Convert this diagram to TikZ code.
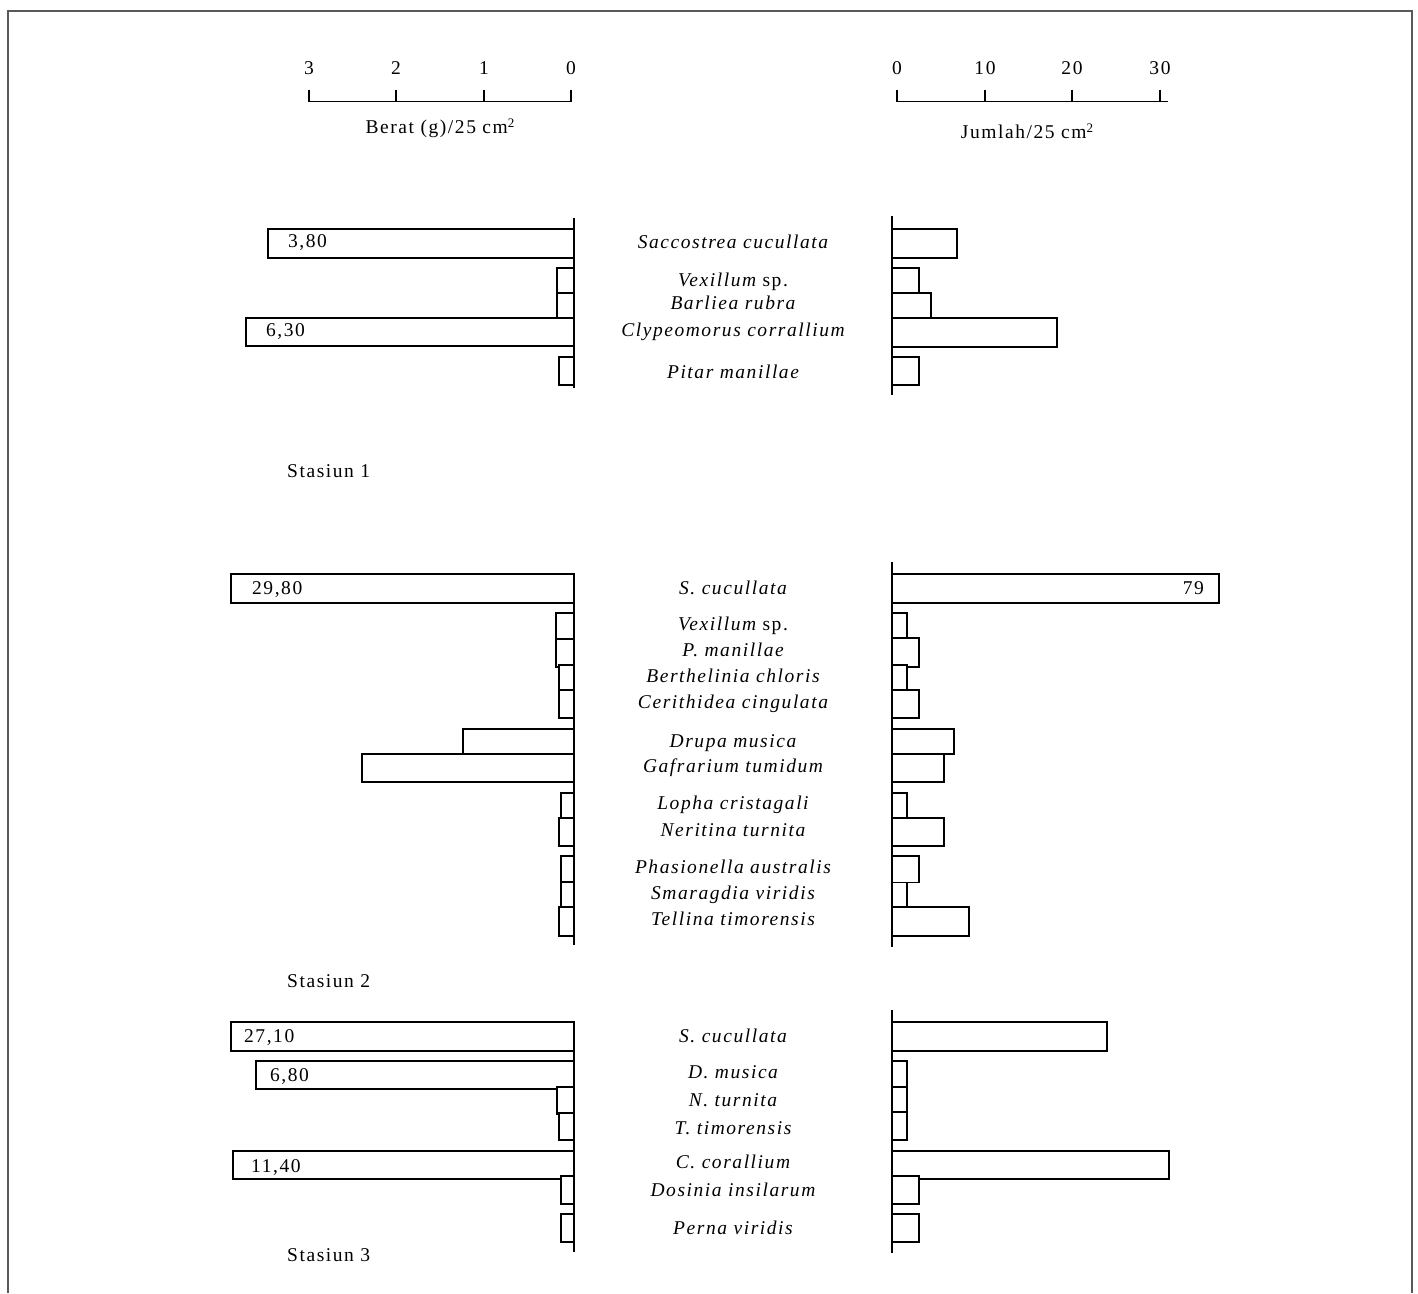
\documentclass[tikz,border=0pt]{standalone}
\usepackage{fontspec}
\setmainfont{Liberation Serif}[LetterSpace=8]
\begin{document}
\begin{tikzpicture}[x=1pt,y=-1pt,
  barbox/.style={draw=black,line width=1.8pt,fill=white},
  axisline/.style={draw=black,line width=1.8pt},
  frameline/.style={draw=black!65,line width=2pt},
  lbl/.style={inner sep=0pt,font=\fontsize{19.5}{22}\selectfont},
  sp/.style={lbl,anchor=base},
  num/.style={lbl,anchor=base west},
  tick/.style={lbl,anchor=base}]
\useasboundingbox (0,0) rectangle (1418,1293);
% frame
\draw[frameline] (8,1293) -- (8,11) -- (1412,11) -- (1412,1293);

% ---------- scales ----------
\coordinate (la) at (308,101.5); \coordinate (lb) at (572,101.5);
\draw[axisline] (la) -- (lb);
\foreach \x/\t in {309/3,396/2,484/1,571/0}{
  \draw[axisline] (\x,89.5) -- (\x,101.5);
  \node[tick] at (\x,74.5) {\t};
}
\node[tick] (beratlbl) at (440,133.5) {Berat (g)/25 cm{\fontsize{13}{13}\selectfont\raisebox{6pt}{2}}};

\coordinate (ra) at (896,101.5); \coordinate (rb) at (1167.5,101.5);
\draw[axisline] (ra) -- (rb);
\foreach \x/\t in {897/0,985/10,1072/20,1160/30}{
  \draw[axisline] (\x,89.5) -- (\x,101.5);
  \node[tick] at (\x,74.5) {\t};
}
\node[tick] (jumlahlbl) at (1027,138) {Jumlah/25 cm{\fontsize{13}{13}\selectfont\raisebox{6pt}{2}}};

% ---------- Stasiun 1 ----------
\foreach \l/\t/\b in {268.3/229.3/257.7, 556.7/267.7/292.7, 556.7/292.7/317.7, 246/317.7/346, 559/356.7/385.3}{
  \draw[barbox] (\l,\t) rectangle (574,\b);
}
\foreach \r/\t/\b in {956.7/229.3/257.7, 919/268/293, 931.3/293/318.3, 1056.7/318.3/347, 919/357/385.3}{
  \draw[barbox] (892,\t) rectangle (\r,\b);
}
\draw[axisline] (574,218) -- (574,388);
\draw[axisline] (892,216) -- (892,395);
\node[num] (v1a) at (288,247.5) {3,80};
\node[num] (v1b) at (266,336.5) {6,30};
\node[sp] (s1a) at (733,248) {\itshape Saccostrea cucullata};
\node[sp] (s1b) at (733,286.5) {\itshape Vexillum\upshape{} sp.};
\node[sp] (s1c) at (733,309.5) {\itshape Barliea rubra};
\node[sp] (s1d) at (733,336.5) {\itshape Clypeomorus corrallium};
\node[sp] (s1e) at (733,378.5) {\itshape Pitar manillae};
\node[num] (st1) at (287,477) {Stasiun 1};

% ---------- Stasiun 2 ----------
\foreach \l/\t/\b in {231/574.3/602.7, 556/612.7/639, 556/639/666.7, 559/664.7/690, 559/690/717.7,
  462.7/728.7/753.7, 362.3/753.7/782, 561/792.7/817.7, 559.3/817.7/846, 561/856/881.7, 561/881.7/907.3, 559.3/907.3/935.7}{
  \draw[barbox] (\l,\t) rectangle (574,\b);
}
\foreach \r/\t/\b in {1219.3/574.3/602.7, 906.7/612.7/638, 919/638/666.7, 906.7/664.7/690, 919/690/717.7,
  953.7/728.7/753.7, 944/753.7/782, 906.7/792.7/817.7, 944/817.7/846, 919/856/882.5, 906.7/882.5/907.3, 969/907.3/935.7}{
  \draw[barbox] (892,\t) rectangle (\r,\b);
}
\draw[axisline] (574,574) -- (574,945);
\draw[axisline] (892,562) -- (892,946.5);
\node[num] (v2a) at (252,594) {29,80};
\node[lbl,anchor=base east] (v2b) at (1204,594) {79};
\node[sp] (s2a) at (733,594.5) {\itshape S. cucullata};
\node[sp] (s2b) at (733,630.5) {\itshape Vexillum\upshape{} sp.};
\node[sp] (s2c) at (733,656.5) {\itshape P. manillae};
\node[sp] (s2d) at (733,682.5) {\itshape Berthelinia chloris};
\node[sp] (s2e) at (733,708.5) {\itshape Cerithidea cingulata};
\node[sp] (s2f) at (733,747.5) {\itshape Drupa musica};
\node[sp] (s2g) at (733,772.5) {\itshape Gafrarium tumidum};
\node[sp] (s2h) at (733,809.5) {\itshape Lopha cristagali};
\node[sp] (s2i) at (733,836.5) {\itshape Neritina turnita};
\node[sp] (s2j) at (733,873.5) {\itshape Phasionella australis};
\node[sp] (s2k) at (733,899.5) {\itshape Smaragdia viridis};
\node[sp] (s2l) at (733,925.5) {\itshape Tellina timorensis};
\node[num] (st2) at (287,987) {Stasiun 2};

% ---------- Stasiun 3 ----------
\foreach \l/\t/\b in {231/1022.3/1050.7, 255.7/1061/1089, 556.7/1086.7/1114.3, 559/1112.7/1140,
  233.3/1150.7/1179, 561/1176/1204, 561/1214/1242.3}{
  \draw[barbox] (\l,\t) rectangle (574,\b);
}
\foreach \r/\t/\b in {1107.3/1022.3/1050.7, 906.7/1061/1086.7, 906.7/1086.7/1112, 906.7/1112/1140,
  1169.3/1150.7/1179, 919/1176/1204, 919/1214.3/1242.3}{
  \draw[barbox] (892,\t) rectangle (\r,\b);
}
\draw[axisline] (574,1022) -- (574,1252);
\draw[axisline] (892,1010) -- (892,1252.5);
\node[num] (v3a) at (244,1042.5) {27,10};
\node[num] (v3b) at (270,1081.5) {6,80};
\node[num] (v3c) at (251,1172) {11,40};
\node[sp] (s3a) at (733,1042.5) {\itshape S. cucullata};
\node[sp] (s3b) at (733,1078.5) {\itshape D. musica};
\node[sp] (s3c) at (733,1106.5) {\itshape N. turnita};
\node[sp] (s3d) at (733,1134.5) {\itshape T. timorensis};
\node[sp] (s3e) at (733,1168.5) {\itshape C. corallium};
\node[sp] (s3f) at (733,1196.5) {\itshape Dosinia insilarum};
\node[sp] (s3g) at (733,1234.5) {\itshape Perna viridis};
\node[num] (st3) at (287,1261) {Stasiun 3};
\end{tikzpicture}
\end{document}
